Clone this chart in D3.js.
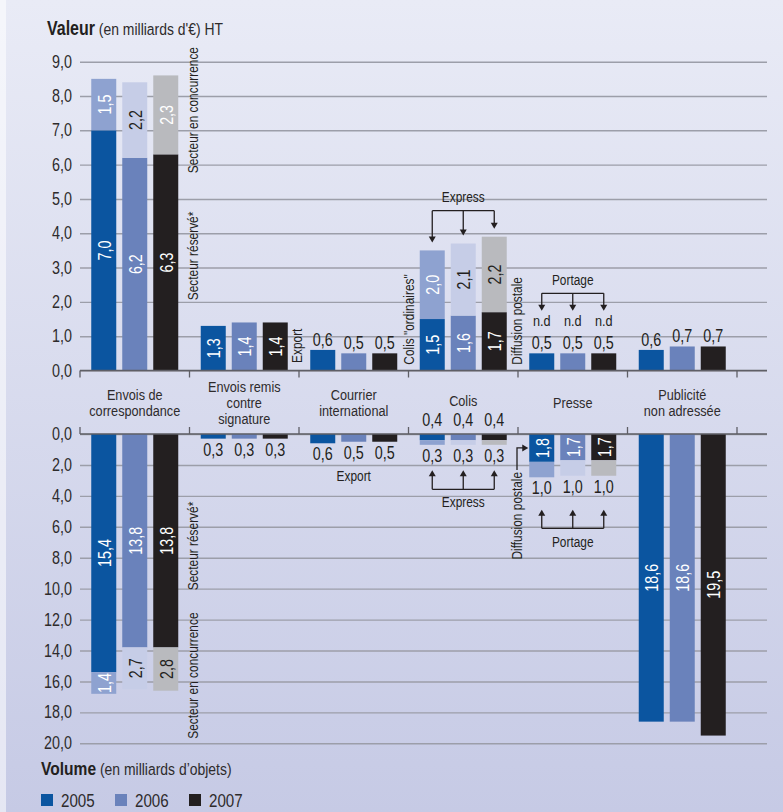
<!DOCTYPE html>
<html>
<head>
<meta charset="utf-8">
<script src="https://cdn.jsdelivr.net/npm/d3@7"></script>
<style>
  html, body { margin: 0; padding: 0; background: #fff; }
  svg { display: block; font-family: "Liberation Sans", Arial, sans-serif; }
</style>
</head>
<body>
<svg id="chart" width="783" height="812"></svg>
<script>
// ---- Data ---------------------------------------------------------------
const years = ["2005", "2006", "2007"];
const categoryLines = [
  ["Envois de", "correspondance"],
  ["Envois remis", "contre", "signature"],
  ["Courrier", "international"],
  ["Colis"],
  ["Presse"],
  ["Publicité", "non adressée"]
];
const categories = categoryLines.map(l => l.join(" "));

// Valeur (en milliards d'€ HT): lower segment and upper segment, per year
const valeurBase  = [[7.0, 6.2, 6.3], [1.3, 1.4, 1.4], [0.6, 0.5, 0.5], [1.5, 1.6, 1.7], [0.5, 0.5, 0.5], [0.6, 0.7, 0.7]];
const valeurUpper = [[1.5, 2.2, 2.3], [0, 0, 0], [0, 0, 0], [2.0, 2.1, 2.2], [null, null, null], [0, 0, 0]];

// Volume (en milliards d'objets): lower segment and upper segment, per year
const volumeBase  = [[15.4, 13.8, 13.8], [0.3, 0.3, 0.3], [0.6, 0.5, 0.5], [0.4, 0.4, 0.4], [1.8, 1.7, 1.7], [18.6, 18.6, 19.5]];
const volumeUpper = [[1.4, 2.7, 2.8], [0, 0, 0], [0, 0, 0], [0.3, 0.3, 0.3], [1.0, 1.0, 1.0], [0, 0, 0]];

const valeurTicks = [0, 1, 2, 3, 4, 5, 6, 7, 8, 9];
const volumeTicks = [0, 2, 4, 6, 8, 10, 12, 14, 16, 18, 20];

// ---- Styles -------------------------------------------------------------
const ink = "#231f20";
const textGrey = "#2e2b2c";
const yearColor = { "2005": "#0b55a0", "2006": "#6a82bb", "2007": "#231f20" };
const yearLight = { "2005": "#8ea2d0", "2006": "#c6cde7", "2007": "#b9babe" };
const lightInk  = { "2005": "#ffffff", "2006": ink, "2007": ink };
const SX = 0.82; // horizontal squeeze giving a condensed face

const fmt = v => d3.format(".1f")(v).replace(".", ",");

const svg = d3.select("#chart");

// text helper: condensed text placed at (x, y), optionally rotated
function addText(g, x, y, str, o = {}) {
  const rot = o.rotate ? ` rotate(${o.rotate})` : "";
  const t = g.append("text")
    .attr("transform", `translate(${x},${y})${rot} scale(${SX},1)`)
    .attr("font-size", o.size || 17)
    .attr("text-anchor", o.anchor || "start")
    .attr("fill", o.fill || ink);
  if (o.baseline) t.attr("dominant-baseline", o.baseline);
  if (o.weight) t.attr("font-weight", o.weight);
  if (str !== null) t.text(str);
  return t;
}

// background
const defs = svg.append("defs");
const grad = defs.append("linearGradient").attr("id", "bg").attr("x1", 0).attr("y1", 0).attr("x2", 0).attr("y2", 1);
grad.append("stop").attr("offset", "0%").attr("stop-color", "#e9ebf6");
grad.append("stop").attr("offset", "100%").attr("stop-color", "#c6cae5");
svg.append("rect").attr("width", 783).attr("height", 812).attr("fill", "url(#bg)");
svg.append("rect").attr("width", 6).attr("height", 812).attr("fill", "#ffffff").attr("opacity", 0.55);

// ---- Scales -------------------------------------------------------------
const plotLeft = 80, plotRight = 767;
const x0 = d3.scaleBand().domain(categories).range([plotLeft, plotLeft + 6 * 109.5]);
const x1 = d3.scaleBand().domain(years).range([11.25, 98.25]).paddingInner(6 / 31);
const yTop = d3.scaleLinear().domain([0, 9]).range([370.5, 61.7]);
const yBot = d3.scaleLinear().domain([0, 20]).range([434, 743.3]);
const bw = x1.bandwidth();
const barX = (ci, yr) => x0(categories[ci]) + x1(yr);
const barC = (ci, yr) => barX(ci, yr) + bw / 2;

// ---- Axes & gridlines ---------------------------------------------------
function drawAxis(scale, ticks) {
  const g = svg.append("g").attr("transform", `translate(${plotLeft},0)`)
    .call(d3.axisLeft(scale).tickValues(ticks).tickFormat(fmt)
      .tickSize(-(plotRight - plotLeft)).tickPadding(8));
  g.select(".domain").remove();
  g.selectAll(".tick line").attr("stroke", "#9c9ea9").attr("stroke-width", 1.4);
  g.selectAll(".tick text").attr("fill", textGrey).attr("font-size", 17.5)
    .attr("font-family", "Liberation Sans, Arial, sans-serif")
    .attr("x", -8 / SX).attr("transform", `scale(${SX},1)`);
}
drawAxis(yTop, valeurTicks);
drawAxis(yBot, volumeTicks);

const boundaries = categories.map(c => x0(c)).concat([x0.range()[1]]);
function baseLine(y0, dir) {
  svg.append("line").attr("x1", plotLeft).attr("x2", plotRight).attr("y1", y0).attr("y2", y0)
    .attr("stroke", "#5f5f66").attr("stroke-width", 1.6);
  svg.append("g").selectAll("line").data(boundaries).join("line")
    .attr("x1", d => d).attr("x2", d => d)
    .attr("y1", y0).attr("y2", y0 + dir * 7)
    .attr("stroke", "#5f5f66").attr("stroke-width", 1.3);
}

// ---- Bars ---------------------------------------------------------------
function drawBars(scale, base, upper) {
  const g = svg.append("g");
  base.forEach((vals, ci) => {
    years.forEach((yr, i) => {
      const b = vals[i];
      const u = upper[ci][i] || 0;
      const x = barX(ci, yr);
      const ya = scale(0), yb = scale(b), yc = scale(b + u);
      g.append("rect").attr("x", x).attr("width", bw)
        .attr("y", Math.min(ya, yb)).attr("height", Math.abs(yb - ya))
        .attr("fill", yearColor[yr]);
      if (u > 0) {
        g.append("rect").attr("x", x).attr("width", bw)
          .attr("y", Math.min(yb, yc)).attr("height", Math.abs(yc - yb))
          .attr("fill", yearLight[yr]);
      }
    });
  });
}
drawBars(yTop, valeurBase, valeurUpper);
drawBars(yBot, volumeBase, volumeUpper);
baseLine(yTop(0), 1);
baseLine(yBot(0), -1);

// ---- Value labels -------------------------------------------------------
const labels = svg.append("g");
function insideLabel(x, yA, yB, txt, fill) {
  addText(labels, x + 1, (yA + yB) / 2, txt, { rotate: -90, anchor: "middle", baseline: "central", fill, size: 17.5 });
}
function flatLabel(x, y, txt, size) {
  addText(labels, x, y, txt, { anchor: "middle", size: size || 17.5 });
}

// placement of the labels for each category
const valeurBaseMode  = ["inside", "inside", "above", "inside", "above", "above"];
const valeurUpperMode = ["inside", null, null, "inside", "nd", null];
const volumeBaseMode  = ["inside", "below", "below", "axis", "inside", "inside"];
const volumeUpperMode = ["inside", null, null, "below", "below", null];

valeurBase.forEach((vals, ci) => {
  years.forEach((yr, i) => {
    const b = vals[i], u = valeurUpper[ci][i];
    const cx = barC(ci, yr);
    if (valeurBaseMode[ci] === "inside") insideLabel(cx, yTop(0), yTop(b), fmt(b), "#fff");
    else flatLabel(cx, yTop(b + (u || 0)) - 4, fmt(b));
    if (valeurUpperMode[ci] === "inside") {
      const fill = (ci === 0) ? (yr === "2006" ? ink : "#fff") : lightInk[yr];
      insideLabel(cx, yTop(b), yTop(b + u), fmt(u), fill);
    } else if (valeurUpperMode[ci] === "nd") {
      flatLabel(cx, yTop(b) - 27, "n.d", 15.5);
    }
  });
});

volumeBase.forEach((vals, ci) => {
  years.forEach((yr, i) => {
    const b = vals[i], u = volumeUpper[ci][i] || 0;
    const cx = barC(ci, yr);
    const mode = volumeBaseMode[ci];
    if (mode === "inside") insideLabel(cx, yBot(0), yBot(b), fmt(b), "#fff");
    else if (mode === "below") flatLabel(cx, yBot(b + u) + 17, fmt(b));
    else if (mode === "axis") flatLabel(cx, yBot(0) - 8, fmt(b));
    if (volumeUpperMode[ci] === "inside") {
      const fill = (ci === 0 && yr === "2005") ? "#fff" : ink;
      insideLabel(cx, yBot(b), yBot(b + u), fmt(u), fill);
    } else if (volumeUpperMode[ci] === "below") {
      flatLabel(cx, yBot(b + u) + 17, fmt(u));
    }
  });
});

// ---- Category labels ----------------------------------------------------
const catG = svg.append("g");
categoryLines.forEach((lines, ci) => {
  const cx = x0(categories[ci]) + x0.bandwidth() / 2;
  const first = ci === 3 ? 406 : 407.5 - (lines.length - 1) * 8;
  lines.forEach((ln, k) => {
    addText(catG, cx, first + k * 16, ln, { anchor: "middle", size: 15.5, fill: textGrey });
  });
});

// ---- Annotations --------------------------------------------------------
const ann = svg.append("g");
const AS = 14.5;
function vText(x, y, txt, anchor) {
  addText(ann, x, y, txt, { rotate: -90, anchor: anchor || "start", size: AS });
}
const gx = ci => x0(categories[ci]);

// Envois de correspondance
vText(gx(1) + 8, yTop(5.75), "Secteur en concurrence");
vText(gx(1) + 8, yTop(2.05), "Secteur réservé*");
vText(gx(1) + 8, yBot(10.1), "Secteur réservé*");
vText(gx(1) + 8, yBot(19.7), "Secteur en concurrence");
// Courrier international
vText(gx(2) + 2.5, yTop(0.22), "Export");
addText(ann, gx(2) + x0.bandwidth() / 2, yBot(0.6) + 38, "Export", { anchor: "middle", size: AS });
// Colis / Presse
vText(gx(3) + 5, yTop(0.17), "Colis \"ordinaires\"");
vText(gx(4) + 3.5, yTop(0.17), "Diffusion postale");

const lineStyle = sel => sel.attr("stroke", ink).attr("stroke-width", 1.3).attr("fill", "none");
function arrowHead(x, y, dir) {
  // dir = 1 : pointing down, -1 : pointing up
  ann.append("path").attr("d", `M${x - 3.5},${y - dir * 6}L${x + 3.5},${y - dir * 6}L${x},${y}Z`).attr("fill", ink);
}
function bracket(xs, yLine, tips, dir, label, labelY) {
  ann.append("line").attr("x1", xs[0]).attr("x2", xs[xs.length - 1]).attr("y1", yLine).attr("y2", yLine).call(lineStyle);
  xs.forEach((x, i) => {
    ann.append("line").attr("x1", x).attr("x2", x).attr("y1", yLine).attr("y2", tips[i] - dir * 5).call(lineStyle);
    arrowHead(x, tips[i], dir);
  });
  addText(ann, (xs[0] + xs[xs.length - 1]) / 2, labelY, label, { anchor: "middle", size: AS });
}

// Express (valeur)
{
  const xs = years.map(yr => barC(3, yr));
  const tots = years.map((yr, i) => valeurBase[3][i] + valeurUpper[3][i]);
  const yLine = yTop(d3.max(tots)) - 26;
  bracket(xs, yLine, tots.map(t => yTop(t) - 8), 1, "Express", yLine - 8.5);
}
// Portage (valeur)
{
  const xs = years.map(yr => barC(4, yr));
  const ndBase = yTop(0.5) - 27;
  const tip = ndBase - 15.5;
  bracket(xs, tip - 17.5, xs.map(() => tip), 1, "Portage", tip - 17.5 - 8.5);
}
// Express (volume)
{
  const xs = years.map(yr => barC(3, yr));
  const tots = years.map((yr, i) => volumeBase[3][i] + volumeUpper[3][i]);
  const lab = yBot(d3.max(tots)) + 17;
  const tip = lab + 8.5;
  bracket(xs, tip + 19, xs.map(() => tip), -1, "Express", tip + 19 + 17.5);
}
// Portage (volume)
{
  const xs = years.map(yr => barC(4, yr));
  const tots = years.map((yr, i) => volumeBase[4][i] + volumeUpper[4][i]);
  const lab = yBot(d3.max(tots)) + 17;
  const tip = lab + 15.5;
  bracket(xs, tip + 18.5, xs.map(() => tip), -1, "Portage", tip + 18.5 + 19);
}
// Diffusion postale (volume) with elbow arrow to the 2005 bar
{
  const ay = yBot(volumeBase[4][0] / 2);
  const lx = gx(4) - 1;
  const tx = barX(4, "2005") - 1;
  ann.append("path").attr("d", `M${lx},${ay + 22}V${ay}H${tx - 5}`).call(lineStyle);
  ann.append("path").attr("d", `M${tx - 6},${ay - 3.5}L${tx - 6},${ay + 3.5}L${tx},${ay}Z`).attr("fill", ink);
  vText(gx(4) + 3.5, ay + 24, "Diffusion postale", "end");
}

// ---- Titles & legend ----------------------------------------------------
const t1 = addText(svg, 47, 35, null, {});
t1.append("tspan").attr("font-weight", "bold").attr("font-size", 19.5).text("Valeur");
t1.append("tspan").attr("font-size", 17).attr("fill", textGrey).text(" (en milliards d'€) HT");

const t2 = addText(svg, 41, 775, null, {});
t2.append("tspan").attr("font-weight", "bold").attr("font-size", 19).text("Volume");
t2.append("tspan").attr("font-size", 17).attr("fill", textGrey).text(" (en milliards d’objets)");

const leg = svg.append("g").selectAll("g").data(years).join("g")
  .attr("transform", (d, i) => `translate(${41 + i * 74},794)`);
leg.append("rect").attr("width", 12).attr("height", 12).attr("fill", d => yearColor[d]);
leg.each(function (d) { addText(d3.select(this), 20, 12.5, d, { size: 18.5, fill: textGrey }); });
</script>
</body>
</html>
